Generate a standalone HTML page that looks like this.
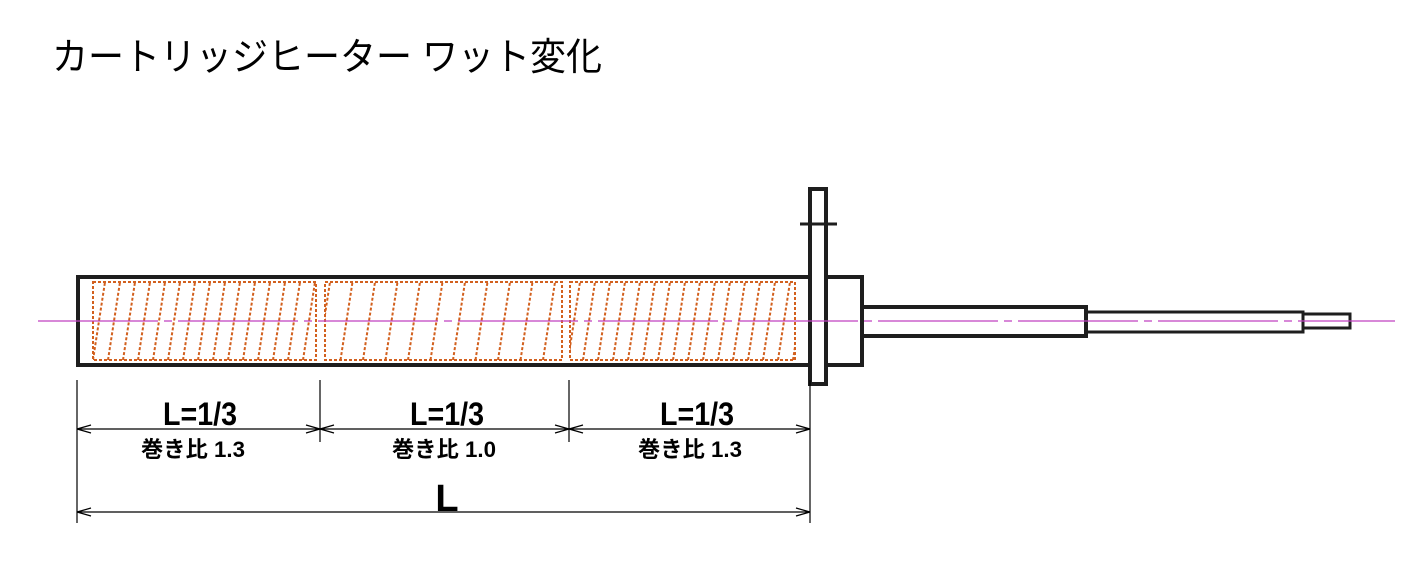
<!DOCTYPE html>
<html><head><meta charset="utf-8"><style>html,body{margin:0;padding:0;background:#fff}svg{display:block}</style></head>
<body>
<svg id="s" width="1426" height="571" viewBox="0 0 1426 571" xmlns="http://www.w3.org/2000/svg">
<defs>
<clipPath id="c1"><rect x="93" y="282" width="223" height="78"/></clipPath>
<clipPath id="c2"><rect x="325" y="282" width="237" height="78"/></clipPath>
<clipPath id="c3"><rect x="570" y="282" width="225" height="78"/></clipPath>
</defs>
<text x="52" y="70" font-family="Liberation Sans, Noto Sans CJK JP, sans-serif" font-size="38" textLength="550" lengthAdjust="spacingAndGlyphs" fill="#000">カートリッジヒーター ワット変化</text>
<g stroke="#d2601e" stroke-width="2" stroke-dasharray="3,2" fill="none">
<rect x="93" y="282" width="223" height="78"/>
<rect x="325" y="282" width="237" height="78"/>
<rect x="570" y="282" width="225" height="78"/>
<g id="h1" clip-path="url(#c1)"></g>
<g id="h2" clip-path="url(#c2)"></g>
<g id="h3" clip-path="url(#c3)"></g>
</g>
<g stroke="#1e1e1e" stroke-width="4" fill="none">
<rect x="78" y="277" width="732" height="88"/>
<rect x="826" y="277" width="36" height="88"/>
<rect x="862" y="307" width="224" height="29"/>
<rect x="1086" y="312" width="217" height="20" stroke-width="3"/>
<rect x="1303" y="314" width="47" height="14" stroke-width="3"/>
<rect x="810" y="189" width="16" height="195" fill="#fff"/>
<line x1="800" y1="224" x2="837" y2="224" stroke-width="3"/>
</g>
<line x1="38" y1="321" x2="1395" y2="321" stroke="#c040c0" stroke-width="1.2" stroke-dasharray="120,6,8,6"/>
<g stroke="#000" stroke-width="1.2">
<line x1="77" y1="380" x2="77" y2="523"/>
<line x1="320" y1="380" x2="320" y2="442"/>
<line x1="569" y1="380" x2="569" y2="442"/>
<line x1="810" y1="380" x2="810" y2="523"/>
<line x1="77" y1="429" x2="810" y2="429"/>
<line x1="77" y1="512" x2="810" y2="512"/>
<path d="M77 429l14-4M77 429l14 4M320 429l-14-4M320 429l-14 4M320 429l14-4M320 429l14 4M569 429l-14-4M569 429l-14 4M569 429l14-4M569 429l14 4M810 429l-14-4M810 429l-14 4M77 512l14-4M77 512l14 4M810 512l-14-4M810 512l-14 4" fill="none"/>
</g>
<g font-family="Liberation Sans Narrow, Liberation Sans, Noto Sans CJK JP, sans-serif" font-weight="bold" fill="#000" text-anchor="middle">
<text x="200" y="425" font-size="32" textLength="74" lengthAdjust="spacingAndGlyphs">L=1/3</text>
<text x="447" y="425" font-size="32" textLength="74" lengthAdjust="spacingAndGlyphs">L=1/3</text>
<text x="697" y="425" font-size="32" textLength="74" lengthAdjust="spacingAndGlyphs">L=1/3</text>
<text x="193" y="457" font-size="22" textLength="104" lengthAdjust="spacingAndGlyphs">巻き比 1.3</text>
<text x="444" y="457" font-size="22" textLength="104" lengthAdjust="spacingAndGlyphs">巻き比 1.0</text>
<text x="690" y="457" font-size="22" textLength="104" lengthAdjust="spacingAndGlyphs">巻き比 1.3</text>
<text x="447" y="511" font-size="38" font-weight="bold">L</text>
</g>
</svg>
<script>
var ns='http://www.w3.org/2000/svg';
function h(id,x0,x1,step){var g=document.getElementById(id);for(var x=x0-12;x<=x1;x+=step){var l=document.createElementNS(ns,'line');l.setAttribute('x1',x);l.setAttribute('y1',360);l.setAttribute('x2',x+12);l.setAttribute('y2',282);g.appendChild(l);}}
h('h1',105,316,15);h('h2',330,562,22.5);h('h3',580,795,15);
</script>
</body></html>
